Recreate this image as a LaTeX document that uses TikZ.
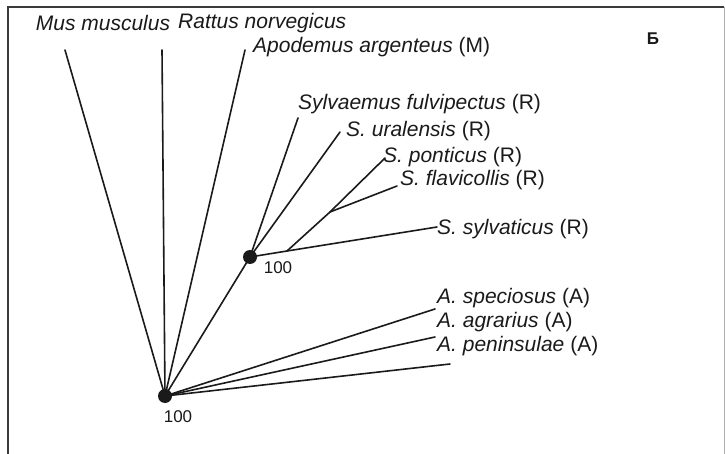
\documentclass[tikz,border=0pt]{standalone}
\usepackage{fontspec}
\setmainfont{Liberation Sans}
\usetikzlibrary{positioning,calc}
\definecolor{inkBlack}{HTML}{1A1A1A}
\definecolor{frameGrey}{HTML}{3A3A3A}
\tikzset{
  branch line/.style={draw=inkBlack,line width=1.6pt,line cap=round},
  clade dot/.style={circle,fill=inkBlack,inner sep=0pt,minimum size=14pt},
  taxon label/.style={inner sep=0pt,anchor=west,font=\fontsize{21}{24}\selectfont,text=inkBlack},
  support label/.style={inner sep=0pt,font=\fontsize{17}{19}\selectfont,text=inkBlack}
}
\begin{document}
\begin{tikzpicture}[x=1pt,y=-1pt]
    \useasboundingbox (0,0) rectangle (725,454);
    % frame
    \draw[frameGrey,line width=1.3pt] (8,460) -- (8,7) -- (724,7);
    \draw[frameGrey!40,line width=0.8pt] (724,7) -- (724,460);
    \node[font=\fontsize{17}{20}\selectfont\bfseries,text=inkBlack] (panel) at (653,39) {Б};

    % tree points
    \coordinate (root) at (165,396);
    \coordinate (sylv) at (250,257);
    \coordinate (sgrp) at (287,251);
    \coordinate (pfl) at (330,212);
    \coordinate (mus) at (65,50);
    \coordinate (rat) at (162,50);
    \coordinate (apo) at (245,50);
    \coordinate (fulv) at (298,118);
    \coordinate (ural) at (340,132);
    \coordinate (pont) at (385,158);
    \coordinate (flav) at (397,186);
    \coordinate (sylvat) at (437,227);
    \coordinate (spec) at (435,309);
    \coordinate (agr) at (435,337);
    \coordinate (pen) at (450,364);

    % branches
    \draw[branch line] (root) -- (mus);
    \draw[branch line] (root) -- (rat);
    \draw[branch line] (root) -- (apo);
    \draw[branch line] (root) -- (sylv);
    \draw[branch line] (root) -- (spec);
    \draw[branch line] (root) -- (agr);
    \draw[branch line] (root) -- (pen);
    \draw[branch line] (sylv) -- (fulv);
    \draw[branch line] (sylv) -- (ural);
    \draw[branch line] (sylv) -- (sgrp) -- (sylvat);
    \draw[branch line] (sgrp) -- (pfl) -- (pont);
    \draw[branch line] (pfl) -- (flav);

    \node[clade dot] (rootdot) at (root) {};
    \node[clade dot] (sylvdot) at (sylv) {};
    \node[support label] (bs1) at (278,268) {100};
    \node[support label] (bs2) at (178,417) {100};

    % taxa
    \node[taxon label,anchor=center] (musL) at (103,23) {\textit{Mus musculus}};
    \node[taxon label] (ratL) at (178,23) {\textit{Rattus norvegicus}};
    \node[taxon label] (apoL) at (253,47) {\textit{Apodemus argenteus} (M)};
    \node[taxon label] (fulvL) at (298,104) {\textit{Sylvaemus fulvipectus} (R)};
    \node[taxon label] (uralL) at (346,131) {\textit{S. uralensis} (R)};
    \node[taxon label] (pontL) at (383,157) {\textit{S. ponticus} (R)};
    \node[taxon label] (flavL) at (400,180) {\textit{S. flavicollis} (R)};
    \node[taxon label] (sylvatL) at (437,229) {\textit{S. sylvaticus} (R)};
    \node[taxon label] (specL) at (437,298) {\textit{A. speciosus} (A)};
    \node[taxon label] (agrL) at (437,322) {\textit{A. agrarius} (A)};
    \node[taxon label] (penL) at (437,346) {\textit{A. peninsulae} (A)};
  \end{tikzpicture}
\end{document}
